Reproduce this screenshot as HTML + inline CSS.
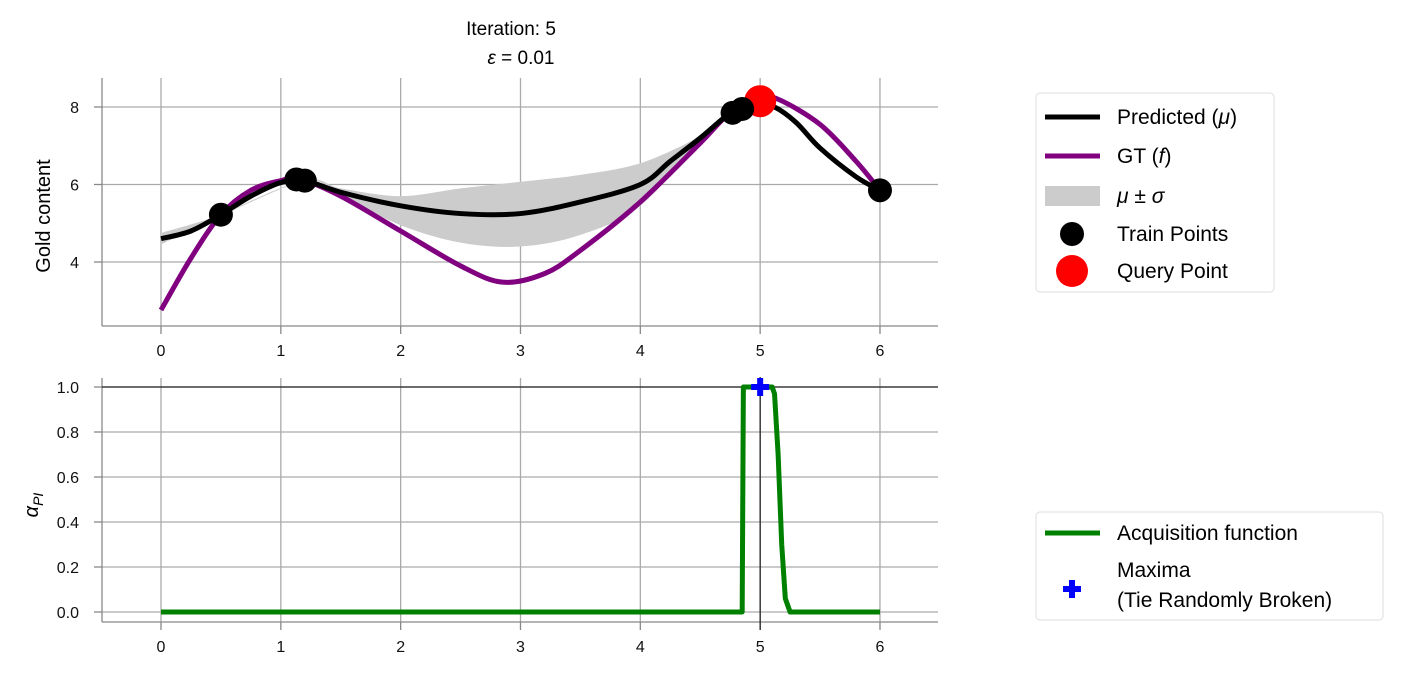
<!DOCTYPE html>
<html><head><meta charset="utf-8"><style>
body{margin:0;background:#fff;}
svg text{font-family:"Liberation Sans","DejaVu Sans",sans-serif;}
</style></head><body>
<svg id="c" width="1401" height="684" xmlns="http://www.w3.org/2000/svg"></svg>
<script>
const xTicks=[0,1,2,3,4,5,6];
const yTicksTop=[4,6,8];
const yTicksBot=[0.0,0.2,0.4,0.6,0.8,1.0];
const gtX=[0,0.25,0.5,0.75,1,1.15,1.5,2,2.5,2.85,3.2,3.5,4,4.5,4.75,5,5.15,5.5,5.8,6];
const gtY=[2.76,4.1,5.22,5.85,6.1,6.15,5.7,4.8,3.9,3.48,3.7,4.3,5.55,7.07,7.85,8.2,8.2,7.55,6.6,5.85];
const muX=[0,0.25,0.5,0.75,1,1.2,1.5,2,2.5,3,3.5,4,4.25,4.5,4.75,4.85,5,5.12,5.3,5.5,5.8,6];
const muY=[4.6,4.8,5.22,5.7,6.05,6.1,5.8,5.45,5.25,5.25,5.55,6.0,6.6,7.2,7.85,7.95,8.05,8.0,7.6,6.94,6.2,5.85];
const bandX=[0,0.5,1.2,1.5,2,2.5,3,3.5,4,4.5,4.75];
const bandUp=[4.75,5.22,6.1,5.9,5.7,5.9,6.07,6.25,6.55,7.25,7.85];
const bandLo=[4.45,5.22,6.1,5.7,4.95,4.5,4.4,4.7,5.45,7.15,7.85];
const trainX=[0.5,1.13,1.2,4.77,4.85,6];
const trainY=[5.22,6.13,6.1,7.85,7.95,5.85];
const queryX=[5], queryY=[8.15];
const acqX=[0,4.85,4.86,5.1,5.12,5.15,5.18,5.21,5.25,6];
const acqY=[0,0,1,1,0.97,0.7,0.3,0.06,0,0];
const maxX=[5], maxY=[1];

const NS="http://www.w3.org/2000/svg";
const svg=document.getElementById('c');
function el(t,a,p){const e=document.createElementNS(NS,t);for(const k in a)e.setAttribute(k,a[k]);(p||svg).appendChild(e);return e;}
const sx=x=>161+x*119.83;
const syT=y=>107+(8-y)*38.75;
const syB=y=>612-y*225;
function smooth(xs,ys,fx,fy){
  const P=xs.map((x,i)=>[fx(x),fy(ys[i])]);
  let d=`M${P[0][0]},${P[0][1]}`;
  for(let i=0;i<P.length-1;i++){
    const p0=P[Math.max(0,i-1)],p1=P[i],p2=P[i+1],p3=P[Math.min(P.length-1,i+2)];
    d+=` C${p1[0]+(p2[0]-p0[0])/6},${p1[1]+(p2[1]-p0[1])/6} ${p2[0]-(p3[0]-p1[0])/6},${p2[1]-(p3[1]-p1[1])/6} ${p2[0]},${p2[1]}`;
  }
  return d;
}
function axes(fy,yt,top,bot,fmt){
  const g=el('g',{});
  xTicks.forEach(t=>{
    let l=el('line',{x1:sx(t),x2:sx(t),y1:top,y2:bot,stroke:'#aaa','stroke-width':1.3},g);
    
    el('line',{x1:sx(t),x2:sx(t),y1:bot,y2:bot+8,stroke:'#888','stroke-width':1.3},g);
    let tx=el('text',{x:sx(t),y:bot+30,'font-size':16,'text-anchor':'middle',fill:'#111'},g);tx.textContent=t;
    
  });
  yt.forEach(t=>{
    let l=el('line',{x1:102,x2:938,y1:fy(t),y2:fy(t),stroke:'#aaa','stroke-width':1.3},g);
    
    el('line',{x1:94,x2:102,y1:fy(t),y2:fy(t),stroke:'#888','stroke-width':1.3},g);
    let tx=el('text',{x:79,y:fy(t)+6,'font-size':16,'text-anchor':'end',fill:'#111'},g);tx.textContent=fmt(t);
    
  });
  el('line',{x1:102,x2:102,y1:top,y2:bot,stroke:'#888','stroke-width':1.3},g);
  el('line',{x1:102,x2:938,y1:bot,y2:bot,stroke:'#888','stroke-width':1.3},g);
}
// Title
let t1=el('text',{x:511,y:35,'font-size':19,'text-anchor':'middle'});t1.textContent='Iteration: 5';

let t2=el('text',{x:521,y:64,'font-size':19,'text-anchor':'middle'});t2.innerHTML='<tspan font-style="italic">ε</tspan> = 0.01';


// top
axes(syT,yTicksTop,78,326,v=>v);
let yl=el('text',{x:0,y:0,'font-size':20,'text-anchor':'middle',transform:'translate(50,216) rotate(-90)'});yl.textContent='Gold content';

let band=el('path',{d:smooth(bandX,bandUp,sx,syT)+' L'+smooth(bandX.slice().reverse(),bandLo.slice().reverse(),sx,syT).slice(1)+' Z',fill:'#ccc'});

let gt=el('path',{d:smooth(gtX,gtY,sx,syT),fill:'none',stroke:'#800080','stroke-width':5});

let mu=el('path',{d:smooth(muX,muY,sx,syT),fill:'none',stroke:'#000','stroke-width':5});

queryX.forEach((x,i)=>{let c=el('circle',{cx:sx(x),cy:syT(queryY[i]),r:16,fill:'red'});
});
trainX.forEach((x,i)=>{let c=el('circle',{cx:sx(x),cy:syT(trainY[i]),r:12,fill:'#000'});
});

// bottom
axes(syB,yTicksBot,378,622,v=>v.toFixed(1));
let yl2=el('text',{x:0,y:0,'font-size':20,'text-anchor':'middle',transform:'translate(38,505) rotate(-90)'});
yl2.innerHTML='<tspan font-style="italic">α</tspan><tspan font-size="14" font-style="italic" dy="5">PI</tspan>';

el('line',{x1:102,x2:938,y1:syB(1),y2:syB(1),stroke:'#222','stroke-width':1.3});
el('line',{x1:sx(maxX[0]),x2:sx(maxX[0]),y1:377,y2:630,stroke:'#222','stroke-width':1.3});
let acq=el('polyline',{points:acqX.map((x,i)=>`${sx(x)},${syB(acqY[i])}`).join(' '),fill:'none',stroke:'#008000','stroke-width':5,'stroke-linejoin':'round'});

maxX.forEach((x,i)=>{const cx=sx(x),cy=syB(maxY[i]);
let p=el('path',{d:`M${cx-3},${cy-9}h6v6h6v6h-6v6h-6v-6h-6v-6h6z`,fill:'blue'});
});

// legends
function legend(x,y,w,h,name){let r=el('rect',{x,y,width:w,height:h,rx:4,fill:'#fff',stroke:'#ddd'});
}
legend(1036,93,238,199,'legend-top');
function ltext(x,y,html,name){let t=el('text',{x,y,'font-size':21});t.innerHTML=html;
}
el('line',{x1:1045,x2:1100,y1:117,y2:117,stroke:'#000','stroke-width':5});
ltext(1117,124,'Predicted (<tspan font-style="italic">μ</tspan>)','legend-predicted');
el('line',{x1:1045,x2:1100,y1:156,y2:156,stroke:'#800080','stroke-width':5});
ltext(1117,163,'GT (<tspan font-style="italic">f</tspan>)','legend-gt');
el('rect',{x:1045,y:186,width:55,height:20,fill:'#ccc'});
ltext(1117,203,'<tspan font-style="italic">μ</tspan> ± <tspan font-style="italic">σ</tspan>','legend-band');
el('circle',{cx:1072,cy:234,r:12,fill:'#000'});
ltext(1117,241,'Train Points','legend-train');
el('circle',{cx:1072,cy:271,r:16,fill:'red'});
ltext(1117,278,'Query Point','legend-query');
legend(1036,512,347,108,'legend-bottom');
el('line',{x1:1045,x2:1100,y1:533,y2:533,stroke:'#008000','stroke-width':5});
ltext(1117,540,'Acquisition function','legend-acquisition');
el('path',{d:'M1069,580h6v6h6v6h-6v6h-6v-6h-6v-6h6z',fill:'blue'});
ltext(1117,577,'Maxima','legend-maxima');
ltext(1117,607,'(Tie Randomly Broken)','legend-maxima-2');
</script>
</body></html>
